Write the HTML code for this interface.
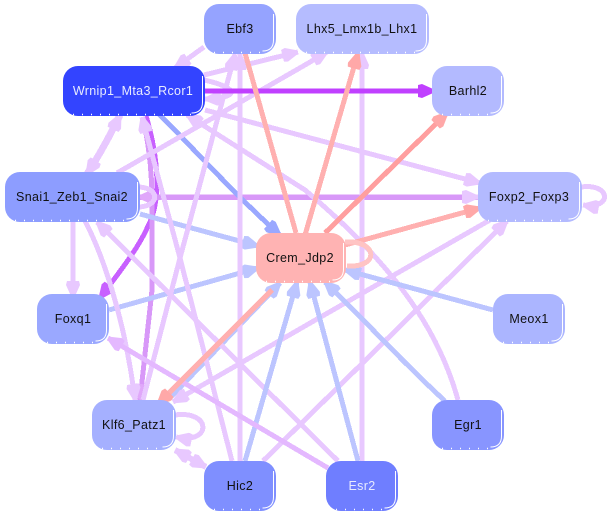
<!DOCTYPE html>
<html><head><meta charset="utf-8"><style>
html,body{margin:0;padding:0;background:#fff;width:610px;height:515px;overflow:hidden}
svg{display:block}
text{font-family:"Liberation Sans",sans-serif;font-size:12.5px;letter-spacing:.35px;text-anchor:middle;fill:#111}
.e{fill:none;stroke-width:5;shape-rendering:crispEdges}
.w{fill:none;stroke:#fff;stroke-width:1}
.q{fill:none;stroke:#fff;stroke-width:1.500;stroke-dasharray:1 8}
</style></head><body>
<svg width="610" height="515" viewBox="0 0 610 515" xmlns="http://www.w3.org/2000/svg">
<defs>
<marker id="p" markerUnits="userSpaceOnUse" markerWidth="17" markerHeight="14" refX="16" refY="7" orient="auto-start-reverse"><path d="M0,1L4,0L14,4.500L16,7L14,9.500L4,14L0,13Z" fill="#e8c8ff"/></marker>
<marker id="m" markerUnits="userSpaceOnUse" markerWidth="17" markerHeight="14" refX="16" refY="7" orient="auto-start-reverse"><path d="M0,1L4,0L14,4.500L16,7L14,9.500L4,14L0,13Z" fill="#c040ff"/></marker>
<marker id="v" markerUnits="userSpaceOnUse" markerWidth="17" markerHeight="14" refX="16" refY="7" orient="auto-start-reverse"><path d="M0,1L4,0L14,4.500L16,7L14,9.500L4,14L0,13Z" fill="#c860ff"/></marker>
<marker id="d" markerUnits="userSpaceOnUse" markerWidth="17" markerHeight="14" refX="16" refY="7" orient="auto-start-reverse"><path d="M0,1L4,0L14,4.500L16,7L14,9.500L4,14L0,13Z" fill="#e0a8fa"/></marker>
<marker id="r" markerUnits="userSpaceOnUse" markerWidth="17" markerHeight="14" refX="16" refY="7" orient="auto-start-reverse"><path d="M0,1L4,0L14,4.500L16,7L14,9.500L4,14L0,13Z" fill="#ffa8a8"/></marker>
<marker id="b" markerUnits="userSpaceOnUse" markerWidth="17" markerHeight="14" refX="16" refY="7" orient="auto-start-reverse"><path d="M0,1L4,0L14,4.500L16,7L14,9.500L4,14L0,13Z" fill="#9aa8ff"/></marker>
<marker id="c" markerUnits="userSpaceOnUse" markerWidth="17" markerHeight="14" refX="16" refY="7" orient="auto-start-reverse"><path d="M0,1L4,0L14,4.500L16,7L14,9.500L4,14L0,13Z" fill="#bcc5ff"/></marker>
<marker id="f" markerUnits="userSpaceOnUse" markerWidth="17" markerHeight="14" refX="16" refY="7" orient="auto-start-reverse"><path d="M0,1L4,0L14,4.500L16,7L14,9.500L4,14L0,13Z" fill="#e4b8ff"/></marker>
</defs>

<!-- under layer -->
<g stroke="#c860ff"><path class="e" d="M146,116C158,155 162,200 148,226C140,245 125,265 100,298" marker-end="url(#v)"/></g>
<g stroke="#d898f8">
<path class="e" d="M143,117C150,150 152,180 152,200L152,290L140,400" marker-end="url(#d)"/>
<path class="e" style="stroke-width:5.500" d="M139,197L478,197" marker-start="url(#d)"/>
</g>
<g stroke="#9aa8ff"><path class="e" d="M158,113C195,150 235,195 280,235" marker-end="url(#b)"/></g>
<g stroke="#bcc5ff">
<path class="e" d="M140,214L258,246" marker-end="url(#c)"/>
<path class="e" d="M109,310L258,268" marker-end="url(#c)"/>
<path class="e" d="M170,398L280,283" marker-end="url(#c)"/>
</g>

<!-- light purple edges -->
<g stroke="#e8c8ff">
<path class="e" d="M204,47L175,68" marker-end="url(#p)"/>
<path class="e" d="M204,75L298,52" marker-end="url(#p)"/>
<path class="e" d="M117,173L305,65L327,52" marker-end="url(#p)"/>
<path class="e" style="stroke-width:7" d="M120,115Q104,148 87,174" marker-start="url(#p)" marker-end="url(#p)"/>
<path class="e" d="M204,80C240,88 240,98 205,99" marker-end="url(#p)"/>
<path class="e" d="M205,110L480,183" marker-end="url(#p)"/>
<path class="e" d="M458,400C440,335 400,270 305,190L187,115" marker-end="url(#p)"/>
<path class="e" d="M139,187C160,188 160,206 139,207"/>
<path class="e" d="M73,221L73,297" marker-end="url(#p)"/>
<path class="e" d="M85,221C103,255 125,320 135,400" marker-end="url(#p)"/>
<path class="e" d="M338,461L97,222" marker-end="url(#p)"/>
<path class="e" d="M232,461L180,258L142,117" marker-end="url(#p)"/>
<path class="e" d="M143,400L180,258L235,54" marker-end="url(#p)"/>
<path class="e" d="M240,461L240,54" marker-end="url(#p)"/>
<path class="e" d="M362,461L362,53" marker-end="url(#p)"/>
<path class="e" d="M263,461L507,221" marker-end="url(#p)"/>
<path class="e" d="M490,220L305,326L173,402" marker-end="url(#p)"/>
<path class="e" style="stroke-width:6" d="M175,450L206,467" marker-start="url(#p)" marker-end="url(#p)"/>
<path class="e" d="M175,415C212,410 212,445 176,437" marker-end="url(#p)"/>
<path class="e" d="M581,187C612,183 612,210 583,205" marker-end="url(#p)"/>
<path class="e" d="M462,197L478,197" marker-end="url(#p)"/>
</g>
<!-- upper blues -->
<g stroke="#bcc5ff">
<path class="e" d="M245,461L297,282" marker-end="url(#c)"/>
<path class="e" d="M358,461L310,282" marker-end="url(#c)"/>
<path class="e" d="M445,401C400,360 365,320 325,282" marker-end="url(#c)"/>
<path class="e" d="M493,310L345,270" marker-end="url(#c)"/>
</g>
<g stroke="#e4b8ff"><path class="e" d="M328,468L108,338" marker-end="url(#f)"/></g>
<g stroke="#c040ff"><path class="e" d="M205,91L434,91" marker-end="url(#m)"/></g>
<!-- reds -->
<g stroke="#ffb0b0">
<path class="e" d="M296,233L245,53"/>
<path class="e" d="M305,235L358,53" marker-end="url(#r)"/>
<path class="e" d="M345,245L480,208" marker-end="url(#r)"/>
<path class="e" d="M272,290L158,404" marker-end="url(#r)"/>
<path class="e" style="stroke:#ffc4c4" d="M345,242C378,240 380,268 347,266"/>
</g>
<g stroke="#ff9f9f"><path class="e" d="M325,233L447,113" marker-end="url(#r)"/></g>

<!-- nodes -->
<rect x="204" y="4" width="72" height="50" rx="15" fill="#95a3ff"/><path class="w" d="M273.500,14v26q0,11 -11,11"/><path class="q" d="M214,52.500h48"/>
<text x="240" y="33">Ebf3</text>
<rect x="296" y="4" width="133" height="50" rx="15" fill="#b5bcff"/><path class="w" d="M426.500,14v26q0,11 -11,11"/><path class="q" d="M306,52.500h109"/>
<text x="362" y="33">Lhx5_Lmx1b_Lhx1</text>
<rect x="63" y="66" width="142" height="50" rx="15" fill="#3344ff"/><path class="w" d="M202.500,76v26q0,11 -11,11"/><path class="q" d="M73,114.500h118"/>
<text x="133" y="95" style="fill:#e8ebff">Wrnip1_Mta3_Rcor1</text>
<rect x="432" y="66" width="72" height="50" rx="15" fill="#b3baff"/><path class="w" d="M501.500,76v26q0,11 -11,11"/><path class="q" d="M442,114.500h48"/>
<text x="468" y="95">Barhl2</text>
<rect x="5" y="172" width="135" height="50" rx="15" fill="#8d9dff"/><path class="w" d="M137.500,182v26q0,11 -11,11"/><path class="q" d="M15,220.500h111"/>
<text x="72" y="201">Snai1_Zeb1_Snai2</text>
<rect x="478" y="172" width="104" height="50" rx="15" fill="#b3baff"/><path class="w" d="M579.500,182v26q0,11 -11,11"/><path class="q" d="M488,220.500h80"/>
<text x="529" y="201">Foxp2_Foxp3</text>
<rect x="256" y="233" width="90" height="50" rx="15" fill="#ffb3b3"/><path class="w" d="M343.500,243v26q0,11 -11,11"/><path class="q" d="M266,281.500h66"/>
<text x="300" y="262">Crem_Jdp2</text>
<rect x="37" y="294" width="72" height="50" rx="15" fill="#9aa8ff"/><path class="w" d="M106.500,304v26q0,11 -11,11"/><path class="q" d="M47,342.500h48"/>
<text x="73" y="323">Foxq1</text>
<rect x="493" y="294" width="72" height="50" rx="15" fill="#abb5ff"/><path class="w" d="M562.500,304v26q0,11 -11,11"/><path class="q" d="M503,342.500h48"/>
<text x="529" y="323">Meox1</text>
<rect x="92" y="400" width="84" height="50" rx="15" fill="#a5b0ff"/><path class="w" d="M173.500,410v26q0,11 -11,11"/><path class="q" d="M102,448.500h60"/>
<text x="134" y="429">Klf6_Patz1</text>
<rect x="432" y="400" width="72" height="50" rx="15" fill="#8895ff"/><path class="w" d="M501.500,410v26q0,11 -11,11"/><path class="q" d="M442,448.500h48"/>
<text x="468" y="429">Egr1</text>
<rect x="204" y="461" width="72" height="50" rx="15" fill="#7f8fff"/><path class="w" d="M273.500,471v26q0,11 -11,11"/><path class="q" d="M214,509.500h48"/>
<text x="240" y="490">Hic2</text>
<rect x="326" y="461" width="72" height="50" rx="15" fill="#6f7eff"/><path class="w" d="M395.500,471v26q0,11 -11,11"/><path class="q" d="M336,509.500h48"/>
<text x="362" y="490" style="fill:#e8ebff">Esr2</text>
</svg>
</body></html>
